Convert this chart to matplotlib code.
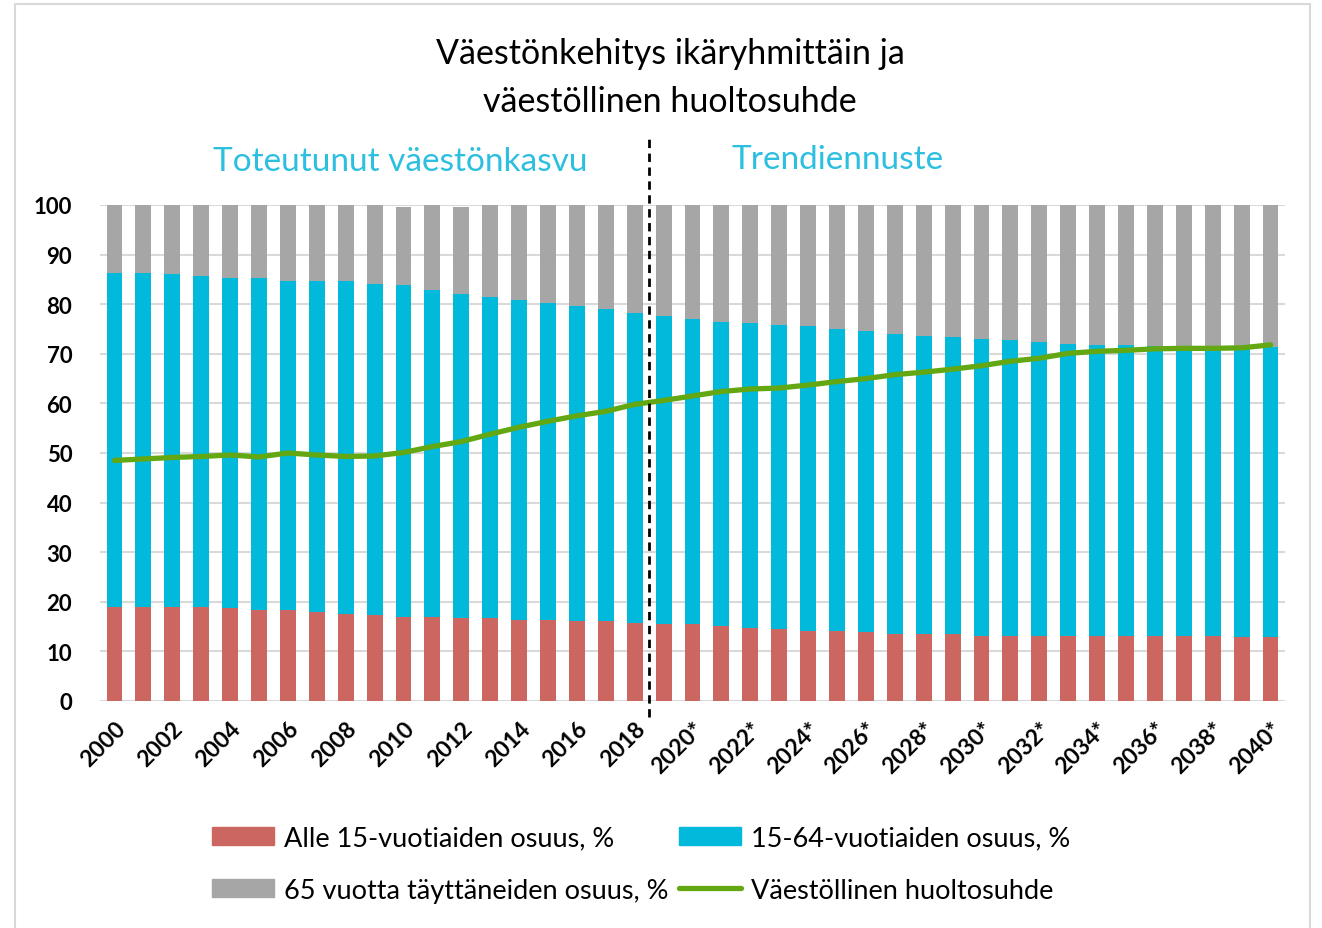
import numpy as np
import matplotlib
matplotlib.use('Agg')
import matplotlib.pyplot as plt
from matplotlib.patches import Rectangle
from matplotlib.lines import Line2D

plt.rcParams['font.family'] = ['Lato', 'DejaVu Sans']

# data
years = list(range(2000, 2041))
year_labels = [str(y) + ('*' if y >= 2019 else '') for y in years]

alle15 = [18.9, 18.9, 18.9, 18.9, 18.7, 18.3, 18.3, 18.0, 17.6, 17.4,
          17.0, 17.0, 16.8, 16.8, 16.4, 16.4, 16.1, 16.1, 15.8, 15.5,
          15.5, 15.1, 14.8, 14.5, 14.2, 14.2, 13.9, 13.5, 13.5, 13.5,
          13.1, 13.1, 13.1, 13.1, 13.1, 13.1, 13.1, 13.1, 13.1, 12.9, 12.9]
ika15_64 = [67.4, 67.4, 67.1, 66.7, 66.6, 67.0, 66.4, 66.7, 67.1, 66.6,
            66.8, 65.8, 65.3, 64.7, 64.5, 63.9, 63.5, 62.9, 62.5, 62.2,
            61.6, 61.4, 61.4, 61.3, 61.4, 60.7, 60.6, 60.4, 60.1, 59.8,
            59.9, 59.6, 59.3, 58.9, 58.7, 58.7, 58.5, 58.4, 58.4, 58.6, 58.5]
yli65 = [13.7, 13.7, 14.0, 14.4, 14.7, 14.7, 15.3, 15.3, 15.3, 16.0,
         15.8, 17.2, 17.5, 18.5, 19.1, 19.7, 20.4, 21.0, 21.7, 22.3,
         22.9, 23.5, 23.8, 24.2, 24.4, 25.1, 25.5, 26.1, 26.4, 26.7,
         27.0, 27.3, 27.6, 28.0, 28.2, 28.2, 28.4, 28.5, 28.5, 28.5, 28.6]
huoltosuhde = [48.5, 48.8, 49.1, 49.3, 49.6, 49.2, 50.0, 49.6, 49.3, 49.4,
               50.1, 51.3, 52.3, 53.8, 55.2, 56.4, 57.5, 58.4, 59.8, 60.6,
               61.5, 62.4, 62.9, 63.1, 63.7, 64.4, 65.0, 65.8, 66.3, 66.9,
               67.6, 68.5, 69.1, 70.1, 70.5, 70.7, 71.0, 71.1, 71.1, 71.2, 71.8]

c_red = '#cc6660'
c_blue = '#00b9db'
c_gray = '#a6a6a6'
c_green = '#63a713'
c_cyan = '#2dbfe0'

fig = plt.figure(figsize=(13.22, 9.29), dpi=100)
ax = fig.add_axes([100/1322, 1-702/929, 1185/1322, 496/929])

x = np.arange(len(years))
a = np.array(alle15)
b = np.array(ika15_64)
c = np.array(yli65)
w = 0.55
ax.bar(x, a, w, color=c_red, zorder=2)
ax.bar(x, b, w, bottom=a, color=c_blue, zorder=2)
ax.bar(x, c, w, bottom=a+b, color=c_gray, zorder=2)
ax.plot(x, huoltosuhde, color=c_green, lw=3.8, solid_capstyle='round', zorder=4)

ax.set_xlim(-0.5, len(years)-0.5)
ax.set_ylim(0, 100)
ax.set_yticks(range(0, 101, 10))
ax.yaxis.grid(True, color='#d9d9d9', lw=1.5, zorder=0)
ax.set_axisbelow(True)
for s in ax.spines.values():
    s.set_visible(False)
ax.tick_params(axis='both', length=0)
for t in ax.get_yticklabels():
    t.set_fontweight('bold')
    t.set_fontsize(16)
ax.tick_params(axis='y', pad=20)

ax.set_xticks(x[::2])
ax.set_xticklabels(year_labels[::2], rotation=45, ha='right', rotation_mode='anchor',
                   fontsize=16.5, fontweight='bold')
ax.tick_params(axis='x', pad=12)

# dashed divider between history and forecast
ax.axvline(18.5, ymin=-0.032, ymax=1.135, color='black', ls=(0, (3, 2)), lw=2,
           clip_on=False, zorder=5)

fig.text(670/1322, 1-78/929, 'Väestönkehitys ikäryhmittäin ja\nväestöllinen huoltosuhde',
         ha='center', va='center', fontsize=24.5, linespacing=1.6)
fig.text(400/1322, 1-162/929, 'Toteutunut väestönkasvu', ha='center', va='center',
         fontsize=24, color=c_cyan)
fig.text(838/1322, 1-160/929, 'Trendiennuste', ha='center', va='center',
         fontsize=24, color=c_cyan)

handles = [Rectangle((0, 0), 1, 1, color=c_red),
           Rectangle((0, 0), 1, 1, color=c_gray),
           Rectangle((0, 0), 1, 1, color=c_blue),
           Line2D([], [], color=c_green, lw=3.8, solid_capstyle='round')]
labels = ['Alle 15-vuotiaiden osuus, %', '65 vuotta täyttäneiden osuus, %',
          '15-64-vuotiaiden osuus, %', 'Väestöllinen huoltosuhde']
fig.legend(handles, labels, ncol=2, loc='center', bbox_to_anchor=(641/1322, 1-865/929),
           frameon=False, fontsize=19.5, handlelength=2.3, handleheight=0.67,
           handletextpad=0.37, columnspacing=0.37, labelspacing=1.0)

# light frame around the chart
fig.patches.append(Rectangle((15/1322, -0.02), 1295/1322, 1.02-5/929, transform=fig.transFigure,
                             fill=False, edgecolor='#d9d9d9', lw=1.5))

fig.savefig('out.png', dpi=100)
